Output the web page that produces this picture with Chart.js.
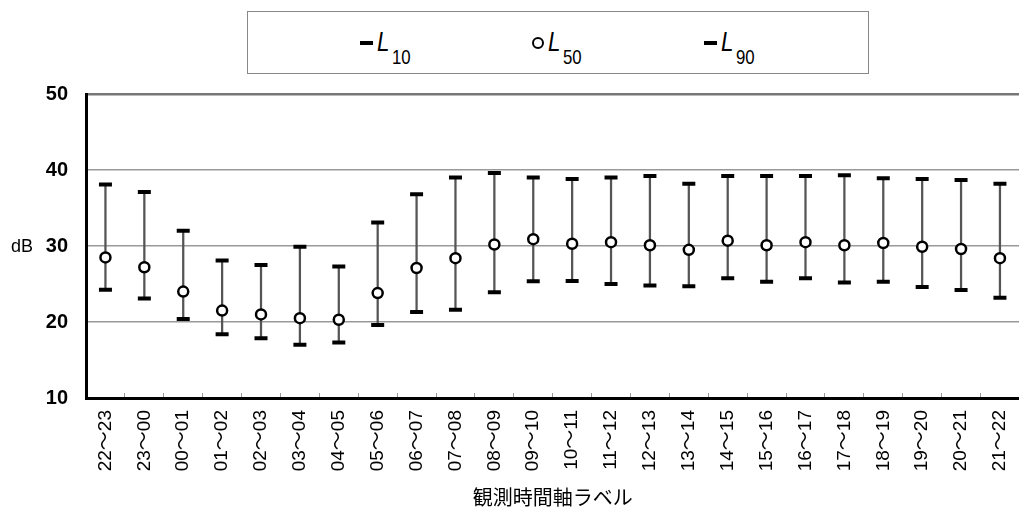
<!DOCTYPE html>
<html>
<head>
<meta charset="utf-8">
<script src="https://cdn.jsdelivr.net/npm/chart.js@4"></script>
<style>
  html, body { margin: 0; padding: 0; background: #fff; overflow: hidden; }
  #wrap { position: relative; width: 1040px; height: 511px; }
  #legendBox {
    position: absolute; left: 247px; top: 11px; width: 620px; height: 61px;
    border: 1.5px solid #888; background: #fff;
  }
  .lg { position: absolute; color: #000; font-family: "Liberation Sans Narrow", "Arial Narrow", "Liberation Sans", sans-serif; line-height: 1; white-space: nowrap; transform-origin: 0 0; transform: scaleX(0.8); }
  .lgL { font-size: 28px; font-style: italic; }
  .lgSub { font-size: 21px; }
  .dash { position: absolute; width: 13px; height: 4px; background: #000; }
  .ring { position: absolute; width: 8px; height: 8px; border: 2px solid #000; border-radius: 50%; background: #fff; }
  #dB { position: absolute; left: 11px; top: 237px; font: 18px "Liberation Sans", Arial, sans-serif; color: #000; line-height: 1; }
</style>
</head>
<body>
<div id="wrap">
  <canvas id="chart"></canvas>
  <div id="legendBox"></div>
  <!-- legend items, positions in page coords -->
  <div class="dash" style="left:360px; top:41px;"></div>
  <span class="lg lgL" style="left:377px; top:28px;">L</span>
  <span class="lg lgSub" style="left:392px; top:46px;">10</span>

  <div class="ring" style="left:532px; top:37px;"></div>
  <span class="lg lgL" style="left:548px; top:28px;">L</span>
  <span class="lg lgSub" style="left:563px; top:46px;">50</span>

  <div class="dash" style="left:704px; top:41px;"></div>
  <span class="lg lgL" style="left:721px; top:28px;">L</span>
  <span class="lg lgSub" style="left:736px; top:46px;">90</span>

  <span id="dB">dB</span>
</div>
<script>
// Data
const hours = ['22～23','23～00','00～01','01～02','02～03','03～04','04～05','05～06',
               '06～07','07～08','08～09','09～10','10～11','11～12','12～13','13～14',
               '14～15','15～16','16～17','17～18','18～19','19～20','20～21','21～22'];
const l10 = [38.1, 37.1, 32.0, 28.1, 27.5, 29.9, 27.3, 33.1, 36.8, 39.0, 39.6, 39.0,
             38.8, 39.0, 39.2, 38.2, 39.2, 39.2, 39.2, 39.3, 38.9, 38.8, 38.7, 38.2];
const l50 = [28.5, 27.2, 24.0, 21.5, 21.0, 20.5, 20.3, 23.8, 27.1, 28.4, 30.2, 30.9,
             30.3, 30.5, 30.1, 29.5, 30.7, 30.1, 30.5, 30.1, 30.4, 29.9, 29.6, 28.4];
const l90 = [24.25, 23.1, 20.4, 18.4, 17.85, 17.0, 17.3, 19.6, 21.3, 21.6, 23.9, 25.35,
             25.4, 25.0, 24.8, 24.7, 25.75, 25.3, 25.75, 25.2, 25.3, 24.6, 24.2, 23.2];
const yTicks = [10, 20, 30, 40, 50];
const xTitle = '観測時間軸ラベル';

window.addEventListener('DOMContentLoaded', () => {
  const ctx = document.getElementById('chart').getContext('2d');
  new Chart(ctx, {
    type: 'bar',
    data: {
      labels: hours,
      datasets: [
        { // L50 circles, topmost
          type: 'line', label: 'L50', data: l50, showLine: false, order: 0,
          pointStyle: 'circle', pointRadius: 5, pointBorderWidth: 2.5,
          pointBorderColor: '#000', pointBackgroundColor: '#fff'
        },
        {
          type: 'line', label: 'L10', data: l10, showLine: false, order: 1,
          pointStyle: 'line', pointRadius: 6.5, pointBorderWidth: 4, pointBorderColor: '#000'
        },
        {
          type: 'line', label: 'L90', data: l90, showLine: false, order: 1,
          pointStyle: 'line', pointRadius: 6.5, pointBorderWidth: 4, pointBorderColor: '#000'
        },
        { // whisker between L90 and L10
          type: 'bar', label: 'range', data: l90.map((v, i) => [v, l10[i]]), order: 2,
          backgroundColor: '#555', barThickness: 1.6
        }
      ]
    },
    options: {
      responsive: true,
      maintainAspectRatio: false,
      animation: false,
      layout: { padding: { top: 94, right: 12, left: 0, bottom: 0 } },
      plugins: { legend: { display: false }, tooltip: { enabled: false } },
      scales: {
        x: {
          afterFit: s => { s.height = 113; },
          grid: { offset: true, drawOnChartArea: false, tickLength: -5, color: '#999', tickWidth: 1 },
          border: { color: '#000', width: 3 },
          ticks: {
            color: '#000', maxRotation: 90, minRotation: 90, padding: 17, autoSkip: false,
            font: { family: '"Liberation Sans", Arial, "Noto Sans CJK JP", sans-serif', size: 19 }
          },
          title: {
            display: true, text: xTitle, color: '#000', padding: { top: 0, bottom: 2 },
            font: { family: '"Noto Sans CJK JP", sans-serif', size: 20 }
          }
        },
        y: {
          min: 10, max: 50,
          afterFit: s => { s.width = 86; },
          afterBuildTicks: s => { s.ticks = yTicks.map(v => ({ value: v })); },
          grid: {
            drawTicks: false,
            color: c => c.tick && c.tick.value === 50 ? '#777' : '#999',
            lineWidth: c => c.tick && c.tick.value === 50 ? 2.5 : 1.5
          },
          border: { color: '#000', width: 3 },
          ticks: {
            color: '#000', padding: 18,
            font: { family: '"Liberation Sans", Arial, sans-serif', size: 20, weight: 'bold' }
          }
        }
      }
    }
  });
});
</script>
</body>
</html>
